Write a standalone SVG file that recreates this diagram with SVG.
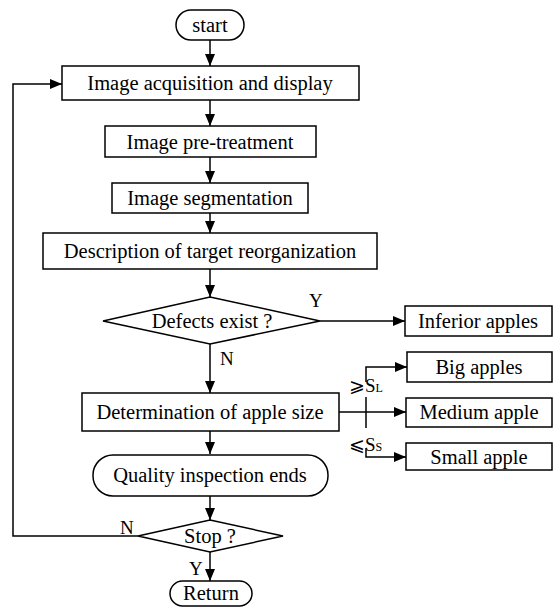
<svg xmlns="http://www.w3.org/2000/svg" width="556" height="607" viewBox="0 0 556 607">
<style>
.n{fill:#fff;stroke:#000;stroke-width:1.5}
.t{font-family:"Liberation Serif","Times New Roman",serif;font-size:20.5px;fill:#000;text-anchor:middle}
.l{font-family:"Liberation Serif","Times New Roman",serif;font-size:19px;fill:#000}
.c{fill:none;stroke:#000;stroke-width:1.5}
</style>
<defs>
<marker id="a" markerWidth="12" markerHeight="10" refX="12" refY="5" orient="auto" markerUnits="userSpaceOnUse">
<path d="M0,0 L12,5 L0,10 Z" fill="#000"/>
</marker>
</defs>
<g id="connectors">
<line class="c" x1="210" y1="40" x2="210" y2="66" marker-end="url(#a)"/>
<line class="c" x1="210" y1="100" x2="210" y2="126" marker-end="url(#a)"/>
<line class="c" x1="210" y1="157" x2="210" y2="183" marker-end="url(#a)"/>
<line class="c" x1="210" y1="213" x2="210" y2="233" marker-end="url(#a)"/>
<line class="c" x1="210" y1="269" x2="210" y2="297" marker-end="url(#a)"/>
<line class="c" x1="320" y1="321" x2="405" y2="321" marker-end="url(#a)"/>
<line class="c" x1="210" y1="344" x2="210" y2="393" marker-end="url(#a)"/>
<line class="c" x1="339" y1="412" x2="406" y2="412" marker-end="url(#a)"/>
<polyline class="c" points="366,382 366,367 407,367" marker-end="url(#a)"/>
<line class="c" x1="366" y1="397" x2="366" y2="428"/>
<polyline class="c" points="366,448 366,457 406,457" marker-end="url(#a)"/>
<line class="c" x1="210" y1="431" x2="210" y2="454" marker-end="url(#a)"/>
<line class="c" x1="210" y1="496" x2="210" y2="520" marker-end="url(#a)"/>
<polyline class="c" points="138,536 13,536 13,84 62,84" marker-end="url(#a)"/>
<line class="c" x1="210" y1="552" x2="210" y2="581" marker-end="url(#a)"/>
<text class="l" x="309" y="307">Y</text>
<text class="l" x="220" y="365">N</text>
<text class="l" x="120" y="534">N</text>
<text class="l" x="189" y="575">Y</text>
<text class="l" x="349" y="392">⩾S<tspan font-size="12">L</tspan></text>
<text class="l" x="349" y="451">⩽S<tspan font-size="12">S</tspan></text>
</g>
<g id="start"><rect class="n" x="176" y="10" width="68" height="30" rx="15"/><text class="t" x="210" y="32">start</text></g>
<g id="acquisition"><rect class="n" x="62" y="66" width="297" height="34"/><text class="t" x="210" y="90">Image acquisition and display</text></g>
<g id="pretreatment"><rect class="n" x="105" y="126" width="211" height="31"/><text class="t" x="210" y="149">Image pre-treatment</text></g>
<g id="segmentation"><rect class="n" x="112" y="183" width="196" height="30"/><text class="t" x="210" y="205">Image segmentation</text></g>
<g id="description"><rect class="n" x="43" y="233" width="334" height="36"/><text class="t" x="210" y="258">Description of target reorganization</text></g>
<g id="defects"><polygon class="n" points="210,297 320,321 210,344 103,321"/><text class="t" x="212" y="328">Defects exist ?</text></g>
<g id="inferior"><rect class="n" x="405" y="306" width="147" height="30"/><text class="t" x="478" y="328">Inferior apples</text></g>
<g id="big"><rect class="n" x="407" y="352" width="145" height="30"/><text class="t" x="479" y="374">Big apples</text></g>
<g id="size"><rect class="n" x="82" y="393" width="257" height="38"/><text class="t" x="210" y="419">Determination of apple size</text></g>
<g id="medium"><rect class="n" x="406" y="398" width="146" height="29"/><text class="t" x="479" y="419">Medium apple</text></g>
<g id="small"><rect class="n" x="406" y="443" width="146" height="27"/><text class="t" x="479" y="464">Small apple</text></g>
<g id="quality"><rect class="n" x="93" y="455" width="235" height="41" rx="20"/><text class="t" x="210" y="482">Quality inspection ends</text></g>
<g id="stop"><polygon class="n" points="210,520 283,536 210,552 138,536"/><text class="t" x="210" y="543">Stop ?</text></g>
<g id="return"><rect class="n" x="170" y="581" width="82" height="25" rx="12.5"/><text class="t" x="211" y="600">Return</text></g>
</svg>
